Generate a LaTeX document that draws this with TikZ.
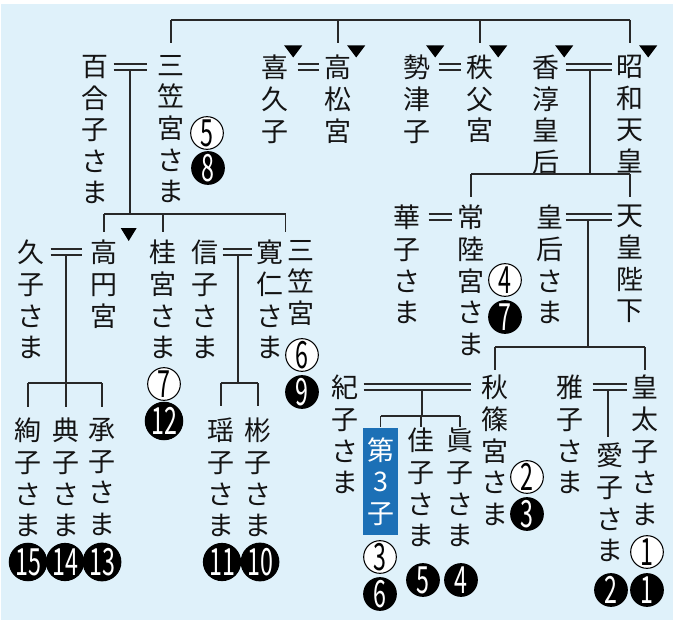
\documentclass[tikz,border=0pt]{standalone}
\usepackage{fontspec}
\usepackage{graphicx}
\usepackage{tikz}
\usetikzlibrary{calc}
\newfontfamily\jpfont{Noto Sans CJK JP}
\definecolor{bgColor}{RGB}{223,241,250}
\definecolor{lineColor}{RGB}{40,40,40}
\definecolor{textColor}{RGB}{20,20,20}
\definecolor{boxColor}{RGB}{28,112,182}
\tikzstyle{pixels} = [x = 0.03cm, y = -0.03cm]
\tikzstyle{familyLine} = [color=lineColor, line width=1.6pt]
\tikzstyle{person} = [anchor=north, align=center, inner sep=0pt, text=textColor, font=\jpfont\fontsize{23}{27}\selectfont, execute at begin node={\rule{0pt}{0.88em}}]
\tikzstyle{thirdChild} = [person, fill=boxColor, text=white, minimum width=1.05cm, minimum height=3.2cm]
\tikzstyle{whiteNumber} = [circle, draw=black, line width=0.9pt, fill=white, text=black, minimum size=0.98cm, inner sep=0pt, font=\jpfont\fontsize{32}{32}\selectfont]
\tikzstyle{blackNumber} = [whiteNumber, fill=black, text=white]
\newcommand{\numText}[1]{\scalebox{0.62}[1]{#1}}
\newcommand{\whiteNum}[3]{\node [whiteNumber] (#1) at (#2) {\numText{#3}};}
\newcommand{\blackNum}[3]{\node [blackNumber] (#1) at (#2) {\numText{#3}};}
\newcommand{\deceased}[1]{\fill [black] ($(#1.north east) + (-4.5, -9.5)$) -- ++(18, 0) -- ++(-9, 12) -- cycle;}
\newcommand{\deceasedShift}[3]{\fill [black] ($(#1.north east) + (#2, #3)$) -- ++(16, 0) -- ++(-8, 13) -- cycle;}
\newcommand{\marriage}[4]{
  \draw [familyLine] ($(#1.north east) + (#3, 9)$) -- ($(#2.north west) + (-#4, 9)$);
  \draw [familyLine] ($(#1.north east) + (#3, 15)$) -- ($(#2.north west) + (-#4, 15)$);
}
\newcommand{\descent}[3]{\draw [familyLine] ($(#2 |- #1.north) + (0, 15)$) -- (#2);}

\begin{document}
\begin{tikzpicture}[pixels]
  \useasboundingbox (0, 0) rectangle (675, 620);
  \fill [white] (0, 0) rectangle (675, 620);
  \fill [bgColor] (1, 4) rectangle (673, 620);

  \node [person] (yuriko) at (95, 55) {百\\合\\子\\さ\\ま};
  \node [person] (mikasaOld) at (171, 55) {三\\笠\\宮\\さ\\ま};
  \node [person] (kikuko) at (275, 55) {喜\\久\\子};
  \node [person] (takamatsu) at (338, 55) {高\\松\\宮};
  \node [person] (setsuko) at (417, 55) {勢\\津\\子};
  \node [person] (chichibu) at (480, 55) {秩\\父\\宮};
  \node [person] (kojun) at (546, 55) {香\\淳\\皇\\后};
  \node [person] (showa) at (630, 55) {昭\\和\\天\\皇};

  \node [person] (hisako) at (31, 240) {久\\子\\さ\\ま};
  \node [person] (takamado) at (104, 240) {高\\円\\宮};
  \node [person] (katsura) at (163, 240) {桂\\宮\\さ\\ま};
  \node [person] (nobuko) at (205, 240) {信\\子\\さ\\ま};
  \node [person] (tomohito) at (270, 240) {寛\\仁\\さ\\ま};
  \node [person] (tomohitoTitle) at (301, 240) {三\\笠\\宮};

  \node [person] (hanako) at (407, 205) {華\\子\\さ\\ま};
  \node [person] (hitachi) at (471, 205) {常\\陸\\宮\\さ\\ま};
  \node [person] (kogo) at (550, 205) {皇\\后\\さ\\ま};
  \node [person] (tenno) at (630, 205) {天\\皇\\陛\\下};

  \node [person] (kiko) at (345, 375) {紀\\子\\さ\\ま};
  \node [person] (akishino) at (495, 375) {秋\\篠\\宮\\さ\\ま};
  \node [person] (masako) at (570, 375) {雅\\子\\さ\\ま};
  \node [person] (kotaishi) at (645, 375) {皇\\太\\子\\さ\\ま};

  \node [person] (ayako) at (28, 418) {絢\\子\\さ\\ま};
  \node [person] (noriko) at (66, 418) {典\\子\\さ\\ま};
  \node [person] (tsuguko) at (102, 418) {承\\子\\さ\\ま};
  \node [person] (yoko) at (221, 418) {瑶\\子\\さ\\ま};
  \node [person] (akiko) at (258, 418) {彬\\子\\さ\\ま};

  \node [thirdChild] (third) at (380.5, 428) {第\\3\\子};
  \node [person] (kako) at (421, 428) {佳\\子\\さ\\ま};
  \node [person] (mako) at (460, 428) {眞\\子\\さ\\ま};
  \node [person] (aiko) at (610, 443) {愛\\子\\さ\\ま};

  \whiteNum{mikasaOldOrder}{207, 133}{5}
  \blackNum{mikasaOldOrderAll}{208, 168}{8}
  \whiteNum{katsuraOrder}{164, 384}{7}
  \blackNum{katsuraOrderAll}{164, 421}{12}
  \whiteNum{tomohitoOrder}{302, 355}{6}
  \blackNum{tomohitoOrderAll}{302, 392}{9}
  \whiteNum{hitachiOrder}{505, 280}{4}
  \blackNum{hitachiOrderAll}{505, 317}{7}
  \whiteNum{akishinoOrder}{527, 477}{2}
  \blackNum{akishinoOrderAll}{527, 514}{3}
  \whiteNum{kotaishiOrder}{647, 552}{1}
  \blackNum{kotaishiOrderAll}{647, 590}{1}
  \whiteNum{thirdOrder}{380, 557}{3}
  \blackNum{thirdOrderAll}{380, 594}{6}
  \blackNum{kakoOrderAll}{423, 580}{5}
  \blackNum{makoOrderAll}{461, 580}{4}
  \blackNum{aikoOrderAll}{611, 590}{2}
  \blackNum{ayakoOrderAll}{28, 562}{15}
  \blackNum{norikoOrderAll}{65, 562}{14}
  \blackNum{tsugukoOrderAll}{102, 562}{13}
  \blackNum{yokoOrderAll}{222, 562}{11}
  \blackNum{akikoOrderAll}{260, 562}{10}

  \deceased{kikuko}
  \deceased{takamatsu}
  \deceased{setsuko}
  \deceased{chichibu}
  \deceased{kojun}
  \deceased{showa}
  \deceasedShift{takamado}{3}{-12}

  \coordinate (topBar) at (0, 20);
  \draw [familyLine] (mikasaOld.north |- topBar) -- (showa.north |- topBar);
  \foreach \child in {mikasaOld, takamatsu, chichibu, showa}
    \draw [familyLine] (\child.north |- topBar) -- ($(\child.north) + (0, -12)$);

  \marriage{yuriko}{mikasaOld}{5}{10}
  \marriage{kikuko}{takamatsu}{9}{5}
  \marriage{setsuko}{chichibu}{8}{5}
  \marriage{kojun}{showa}{6}{4}
  \marriage{hanako}{hitachi}{8}{5}
  \marriage{kogo}{tenno}{2}{4}
  \marriage{hisako}{takamado}{6}{8}
  \marriage{nobuko}{tomohito}{4}{4}
  \marriage{kiko}{akishino}{5}{10}
  \marriage{masako}{kotaishi}{9}{4}

  \coordinate (mikasaBar) at (130, 214);
  \coordinate (tomohitoTop) at ($(tomohito.north east)!0.5!(tomohitoTitle.north west)$);
  \descent{yuriko}{mikasaBar}{}
  \draw [familyLine] (takamado.north |- mikasaBar) -- (tomohitoTop |- mikasaBar);
  \foreach \child in {takamado, katsura}
    \draw [familyLine] (\child.north |- mikasaBar) -- ($(\child.north) + (0, -8)$);
  \draw [familyLine] (tomohitoTop |- mikasaBar) -- ($(tomohitoTop) + (0, -8)$);

  \coordinate (showaBar) at (590, 174);
  \descent{kojun}{showaBar}{}
  \draw [familyLine] (hitachi.north |- showaBar) -- (tenno.north |- showaBar);
  \foreach \child in {hitachi, tenno}
    \draw [familyLine] (\child.north |- showaBar) -- ($(\child.north) + (0, -8)$);

  \coordinate (tennoBar) at (588, 347);
  \descent{kogo}{tennoBar}{}
  \draw [familyLine] (akishino.north |- tennoBar) -- (kotaishi.north |- tennoBar);
  \foreach \child in {akishino, kotaishi}
    \draw [familyLine] (\child.north |- tennoBar) -- ($(\child.north) + (0, -5)$);

  \coordinate (takamadoBar) at (66, 383);
  \descent{hisako}{takamadoBar}{}
  \draw [familyLine] (ayako.north |- takamadoBar) -- (tsuguko.north |- takamadoBar);
  \foreach \child in {ayako, noriko, tsuguko}
    \draw [familyLine] (\child.north |- takamadoBar) -- ($(\child.north) + (0, -11)$);

  \coordinate (tomohitoBar) at (238, 383);
  \descent{nobuko}{tomohitoBar}{}
  \draw [familyLine] (yoko.north |- tomohitoBar) -- (akiko.north |- tomohitoBar);
  \foreach \child in {yoko, akiko}
    \draw [familyLine] (\child.north |- tomohitoBar) -- ($(\child.north) + (0, -12)$);

  \coordinate (akishinoBar) at (422, 416);
  \descent{kiko}{akishinoBar}{}
  \draw [familyLine] (third.north |- akishinoBar) -- (mako.north |- akishinoBar);
  \foreach \child in {third, kako, mako}
    \draw [familyLine] (\child.north |- akishinoBar) -- ($(\child.north) + (0, -1)$);

  \coordinate (kotaishiBar) at (608, 389);
  \draw [familyLine] (kotaishiBar) -- ($(kotaishiBar |- aiko.north) + (0, -6)$);
\end{tikzpicture}
\end{document}
